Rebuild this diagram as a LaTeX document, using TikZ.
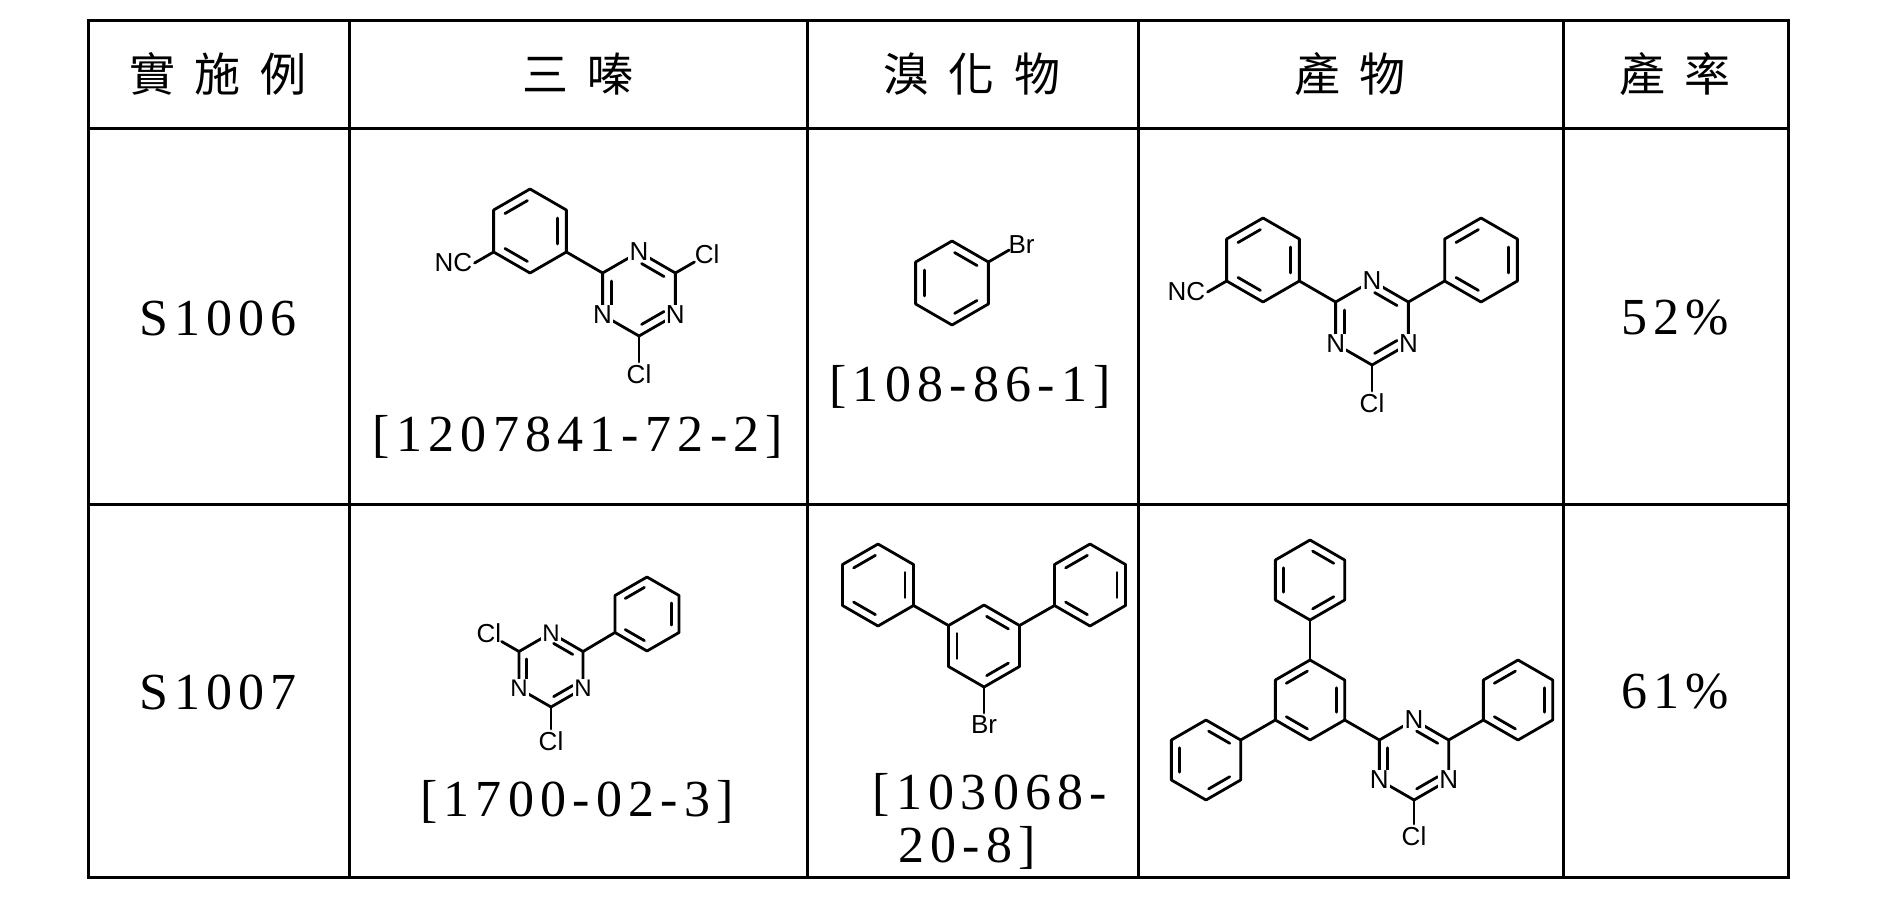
\documentclass[tikz,border=0pt]{standalone}
\usepackage{fontspec}
\setmainfont{Liberation Serif}
\newfontfamily\cas{Liberation Serif}[LetterSpace=12]
\newfontfamily\cjk{Noto Sans CJK TC}[LetterSpace=42]
\newfontfamily\chemf{Liberation Sans}
\usetikzlibrary{calc}
\tikzset{
  bond/.style={line width=1.4pt, line cap=round, line join=round},
  grid/.style={line width=1.5pt},
  head/.style={font=\cjk\fontsize{23}{26}\selectfont},
  body/.style={font=\cas\fontsize{26}{30}\selectfont, align=center},
  atom/.style={font=\chemf\fontsize{13}{13}\selectfont, fill=white, inner sep=0.6pt},
  atoms/.style={font=\chemf\fontsize{12}{12}\selectfont, fill=white, inner sep=0.6pt},
  sub/.style={font=\chemf\fontsize{13}{13}\selectfont, inner sep=1pt},
}
\newcommand\hexr[4]{%
  \coordinate (#1) at (#2,#3);
  \coordinate (#1t) at ($(#1)+(270:#4)$);
  \coordinate (#1ur) at ($(#1)+(330:#4)$);
  \coordinate (#1lr) at ($(#1)+(30:#4)$);
  \coordinate (#1b) at ($(#1)+(90:#4)$);
  \coordinate (#1ll) at ($(#1)+(150:#4)$);
  \coordinate (#1ul) at ($(#1)+(210:#4)$);
  \draw[bond] (#1t)--(#1ur)--(#1lr)--(#1b)--(#1ll)--(#1ul)--cycle;}
\newcommand\inb[3]{\draw[bond, shorten >=1.5pt, shorten <=1.5pt] ($(#1)!0.76!(#1#2)$)--($(#1)!0.76!(#1#3)$);}
\newcommand\phA[1]{\inb{#1}{t}{ul}\inb{#1}{ur}{lr}\inb{#1}{ll}{b}}
\newcommand\phB[1]{\inb{#1}{t}{ur}\inb{#1}{ul}{ll}\inb{#1}{lr}{b}}
\newcommand\trz[5]{% name x y b style
  \hexr{#1}{#2}{#3}{#4}\phB{#1}%
  \node[#5] (#1N1) at (#1t) {N};
  \node[#5] (#1N2) at (#1lr) {N};
  \node[#5] (#1N3) at (#1ll) {N};}
\begin{document}
\begin{tikzpicture}[x=0.5pt,y=-0.5pt]
\useasboundingbox (0,0) rectangle (1893,905);
% table
\draw[grid] (88,20) rectangle (1788,877);
\draw[grid] (88,128) -- (1788,128);
\draw[grid] (88,504) -- (1788,504);
\foreach \x in {349,807,1138,1563} \draw[grid] (\x,20) -- (\x,877);
% header
\node[head] (h1) at (218,74) {實施例};
\node[head] (h2) at (578,74) {三嗪};
\node[head] (h3) at (972,74) {溴化物};
\node[head] (h4) at (1350,74) {產物};
\node[head] (h5) at (1675,74) {產率};
% row labels
\node[body] (e1) at (218,318) {S1006};
\node[body] (e2) at (218,692) {S1007};
\node[body] (y1) at (1675,318) {52\%};
\node[body] (y2) at (1675,692) {61\%};
% CAS numbers
\node[body] (c1) at (578,437) {[1207841-72-2]};
\node[body] (c2) at (970,387) {[108-86-1]};
\node[body] (c3) at (577,802) {[1700-02-3]};
\node[body] (c4a) at (990,795) {[103068-};
\node[body] (c4b) at (967,848) {20-8]};
% ===== row 1, triazine
\hexr{ra}{530}{231}{42}\phA{ra}
\draw[bond] (rall) -- ++(150:22) coordinate (ranc);
\node[sub, anchor=east] (ranct) at (ranc) {NC};
\trz{rt}{639}{294}{42}{atom}
\draw[bond] (ralr) -- (rtul);
\draw[bond] (rtur) -- ++(330:22) coordinate (rtc1);
\node[sub, anchor=south west] (rtcl1) at ($(rtc1)+(-2,4)$) {Cl};
\draw[bond] (rtb) -- ++(90:26) coordinate (rtc2);
\node[sub, anchor=north] (rtcl2) at (rtc2) {Cl};
% ===== row 1, bromobenzene
\hexr{rb}{952}{283}{42}\phB{rb}
\draw[bond] (rbur) -- ++(330:24) coordinate (rbbr);
\node[sub, anchor=south west] (rbbrt) at ($(rbbr)+(-3,6)$) {Br};
% ===== row 1, product
\hexr{pa}{1263}{260}{42}\phA{pa}
\draw[bond] (pall) -- ++(150:22) coordinate (panc);
\node[sub, anchor=east] (panct) at (panc) {NC};
\trz{pt}{1372}{323}{42}{atom}
\draw[bond] (palr) -- (ptul);
\hexr{pp}{1481}{260}{42}\phA{pp}
\draw[bond] (ptur) -- (ppll);
\draw[bond] (ptb) -- ++(90:26) coordinate (ptc);
\node[sub, anchor=north] (ptcl) at (ptc) {Cl};
% ===== row 2, triazine
\trz{st}{551}{670}{37}{atoms}
\hexr{sp}{647}{614}{37}\phA{sp}
\draw[bond] (stur) -- (spll);
\draw[bond] (stul) -- ++(210:20) coordinate (stc1);
\node[sub, anchor=south east] (stcl1) at ($(stc1)+(2,4)$) {Cl};
\draw[bond] (stb) -- ++(90:22) coordinate (stc2);
\node[sub, anchor=north] (stcl2) at (stc2) {Cl};
% ===== row 2, bromide
\hexr{tc}{984}{646}{41}\phB{tc}
\hexr{tl}{878}{585}{41}\phA{tl}
\hexr{tr}{1090}{585}{41}\phA{tr}
\draw[bond] (tcul) -- (tllr);
\draw[bond] (tcur) -- (trll);
\draw[bond] (tcb) -- ++(90:26) coordinate (tcbr);
\node[sub, anchor=north] (tcbrt) at (tcbr) {Br};
% ===== row 2, product
\hexr{qc}{1310}{700}{40}\phA{qc}
\hexr{qu}{1310}{580}{40}\phB{qu}
\hexr{ql}{1206}{760}{40}\phB{ql}
\trz{qt}{1414}{760}{40}{atom}
\hexr{qr}{1518}{700}{40}\phA{qr}
\draw[bond] (qct) -- (qub);
\draw[bond] (qcll) -- (qlur);
\draw[bond] (qclr) -- (qtul);
\draw[bond] (qtur) -- (qrll);
\draw[bond] (qtb) -- ++(90:24) coordinate (qtc);
\node[sub, anchor=north] (qtcl) at (qtc) {Cl};
\end{tikzpicture}
\end{document}
